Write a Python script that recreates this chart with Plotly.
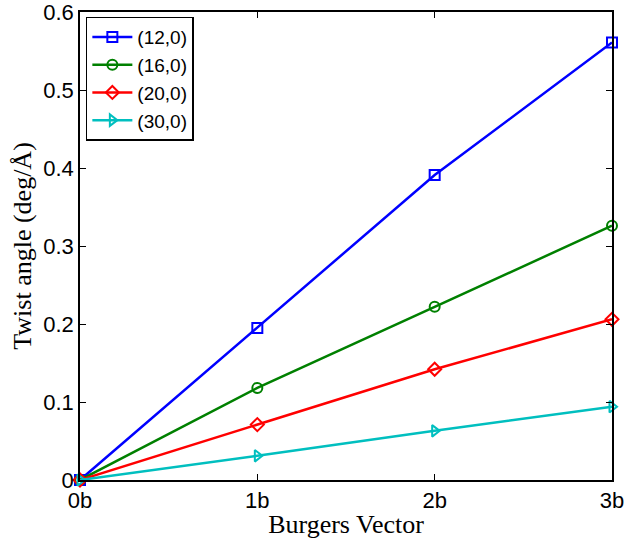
import plotly.graph_objects as go

x_labels = ["0b", "1b", "2b", "3b"]
x_vals = [0, 1, 2, 3]
series_names = ["(12,0)", "(16,0)", "(20,0)", "(30,0)"]
s12 = [0, 0.195, 0.391, 0.561]
s16 = [0, 0.118, 0.222, 0.326]
s20 = [0, 0.071, 0.142, 0.206]
s30 = [0, 0.031, 0.063, 0.094]

colors = ["#0000ff", "#008000", "#ff0000", "#00bfbf"]
symbols = ["square-open", "circle-open", "diamond-open", "triangle-right-open"]

fig = go.Figure()
for name, ys, c, s in zip(series_names, [s12, s16, s20, s30], colors, symbols):
    fig.add_trace(go.Scatter(
        x=x_vals, y=ys, name=name, mode="lines+markers",
        line=dict(color=c, width=2.5),
        marker=dict(symbol=s, size=10, color=c, line=dict(color=c, width=2)),
        cliponaxis=False,
    ))

axis_common = dict(
    showgrid=False, zeroline=False, showline=True, linecolor="black", linewidth=1.5,
    mirror="ticks", ticks="inside", ticklen=6, tickcolor="black", automargin=False,
    ticklabeloverflow="allow",
    tickfont=dict(family="Liberation Sans, Arial", size=22, color="black"),
)
fig.update_xaxes(
    range=[0, 3], tickvals=x_vals, ticktext=x_labels,
    title=dict(text="Burgers Vector", font=dict(family="Liberation Serif, Times New Roman", size=26, color="black"), standoff=0),
    **axis_common,
)
fig.update_yaxes(
    range=[0, 0.6], tickvals=[0, 0.1, 0.2, 0.3, 0.4, 0.5, 0.6],
    ticktext=["0", "0.1", "0.2", "0.3", "0.4", "0.5", "0.6"],
    title=dict(text="Twist angle (deg/Å)", font=dict(family="Liberation Serif, Times New Roman", size=26, color="black"), standoff=4),
    **axis_common,
)
fig.update_layout(
    width=630, height=539,
    margin=dict(l=80, r=18, t=12, b=59, autoexpand=False),
    plot_bgcolor="white", paper_bgcolor="white",
    legend=dict(
        x=0.011, y=0.99, xanchor="left", yanchor="top",
        bgcolor="white", bordercolor="black", borderwidth=1.5,
        font=dict(family="Liberation Sans, Arial", size=19, color="black"),
        itemwidth=40, tracegroupgap=0,
    ),
    showlegend=True,
)
fig.write_html(
    "out.html",
    config={"displayModeBar": False},
    post_script="document.body.style.margin='0px';document.body.style.overflow='hidden';",
)
